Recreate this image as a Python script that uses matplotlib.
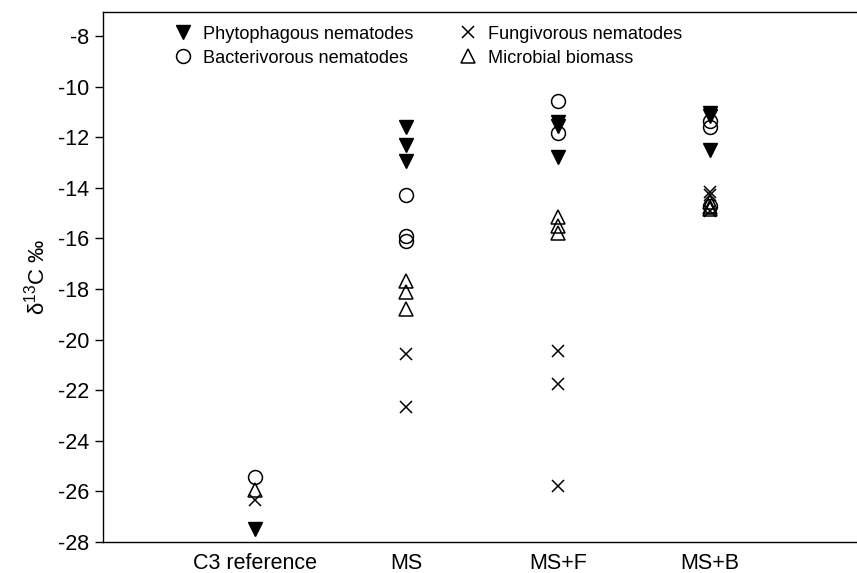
import matplotlib
matplotlib.use("Agg")
import matplotlib.pyplot as plt

plt.rcParams['font.family'] = ['Liberation Sans', 'DejaVu Sans']
plt.rcParams['mathtext.fontset'] = 'custom'
plt.rcParams['mathtext.rm'] = 'Liberation Sans'
plt.rcParams['mathtext.default'] = 'regular'

categories = ["C3 reference", "MS", "MS+F", "MS+B"]
series_names = ["Phytophagous nematodes", "Bacterivorous nematodes",
                "Fungivorous nematodes", "Microbial biomass"]

phytophagous = [[-27.5], [-11.6, -12.3, -12.95], [-11.4, -11.55, -12.8], [-11.05, -11.15, -12.5]]
bacterivorous = [[-25.45], [-14.3, -15.9, -16.1], [-10.55, -11.85], [-11.35, -11.6, -14.7]]
fungivorous = [[-26.35], [-20.55, -22.65], [-20.45, -21.75, -25.8], [-14.15, -14.3, -14.9]]
microbial = [[-25.95], [-17.7, -18.1, -18.8], [-15.15, -15.5, -15.8], [-14.55, -14.75, -14.85]]

yticks = [-8, -10, -12, -14, -16, -18, -20, -22, -24, -26, -28]

fig = plt.figure(figsize=(8.57, 5.73), dpi=100)
ax = fig.add_axes([103/857, 1-542/573, 1-103/857, (542-12)/573])

styles = [
    dict(marker='v', color='black', markerfacecolor='black', markersize=9.5),
    dict(marker='o', color='black', markerfacecolor='none', markersize=10, markeredgewidth=1.1),
    dict(marker='x', color='black', markersize=8.5, markeredgewidth=1.1),
    dict(marker='^', color='black', markerfacecolor='none', markersize=9.5, markeredgewidth=1.1),
]

handles = []
for data, name, st in zip([phytophagous, bacterivorous, fungivorous, microbial], series_names, styles):
    xs, ys = [], []
    for i, vals in enumerate(data):
        for v in vals:
            xs.append(i + 1)
            ys.append(v)
    h, = ax.plot(xs, ys, linestyle='none', label=name, clip_on=False, **st)
    handles.append(h)

ax.set_xlim(0, 4.97)
ax.set_ylim(-28, -7.05)
ax.set_xticks(range(1, len(categories) + 1))
ax.set_xticklabels(categories, fontsize=15.5)
ax.set_yticks(yticks)
ax.set_yticklabels([str(t) for t in yticks], fontsize=15.5)
ax.tick_params(axis='x', length=0, pad=8)
ax.tick_params(axis='y', direction='out', length=6, width=1, pad=4)
ax.spines['right'].set_visible(False)
for s in ['left', 'top', 'bottom']:
    ax.spines[s].set_linewidth(1.0)

ax.set_ylabel('δ$^{13}$C ‰', fontsize=16, labelpad=6)

leg = ax.legend(handles=handles, ncol=2, loc='upper left', bbox_to_anchor=(0.094, 0.974),
                frameon=False, fontsize=13.1, handlelength=1.0, handletextpad=0.6,
                columnspacing=2.5, labelspacing=0.38, borderpad=0, borderaxespad=0)

fig.savefig('out.png', dpi=100)
